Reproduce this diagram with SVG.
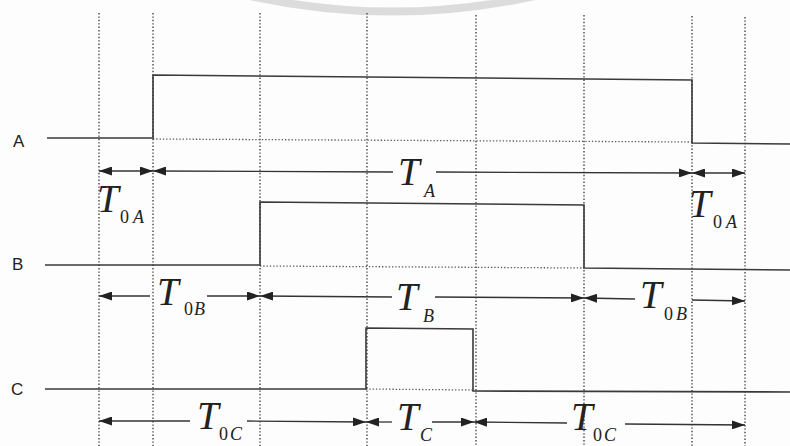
<svg xmlns="http://www.w3.org/2000/svg" width="790" height="446" viewBox="0 0 790 446">
<style>
.bg{fill:#fdfdfd}
.grid{stroke:#444;stroke-width:1.4;stroke-dasharray:1.4 2;fill:none}
.lowdot{stroke:#555;stroke-width:1.3;stroke-dasharray:1.3 2;fill:none}
.sig{stroke:#3a3a3a;stroke-width:1.6;fill:none}
.dim{stroke:#333;stroke-width:1.3;fill:none}
.lbl{font-family:"Liberation Sans",Arial,sans-serif;font-size:17px;fill:#222}
.T{font-family:"Liberation Serif","Times New Roman",serif;font-style:italic;font-size:39px;fill:#222}
.s{font-family:"Liberation Serif","Times New Roman",serif;font-size:18px;fill:#222}
.si{font-family:"Liberation Serif","Times New Roman",serif;font-style:italic;font-size:18px;fill:#222}
</style>
<defs>
<marker id="ah" viewBox="0 0 13 9" refX="13" refY="4.5" markerWidth="13" markerHeight="9" markerUnits="userSpaceOnUse" orient="auto-start-reverse">
<path d="M0,0 L13,4.5 L0,9 z" fill="#222"/>
</marker>
</defs>
<rect class="bg" x="0" y="0" width="790" height="446"/>
<path d="M250 -4 A666 666 0 0 0 535 -4" stroke="#dcdcdc" stroke-width="8" fill="none"/>

<g id="grid">
<line class="grid" x1="99" y1="13" x2="99" y2="446"/>
<line class="grid" x1="153" y1="13" x2="153" y2="446"/>
<line class="grid" x1="260" y1="13" x2="260" y2="446"/>
<line class="grid" x1="367" y1="13" x2="367" y2="446"/>
<line class="grid" x1="476" y1="15" x2="476" y2="446"/>
<line class="grid" x1="584" y1="15" x2="584" y2="446"/>
<line class="grid" x1="692" y1="16" x2="692" y2="446"/>
<line class="grid" x1="745" y1="17" x2="745" y2="446"/>
</g>

<g id="signal-A">
<text class="lbl" x="13" y="147">A</text>
<line class="lowdot" x1="153" y1="139" x2="692" y2="142"/>
<polyline class="sig" points="47,138 153,138 153,75 692,80 692,143 790,144"/>
</g>
<g id="signal-B">
<text class="lbl" x="12" y="270">B</text>
<line class="lowdot" x1="260" y1="266" x2="584" y2="268"/>
<polyline class="sig" points="45,265 260,265 260,202 584,205 584,268 790,270"/>
</g>
<g id="signal-C">
<text class="lbl" x="11" y="395">C</text>
<line class="lowdot" x1="366" y1="389" x2="473" y2="390"/>
<polyline class="sig" points="45,389 366,389 366,328 473,329 473,391 790,392"/>
</g>

<g id="connectors">
<line class="dim" x1="99" y1="171" x2="153" y2="171" marker-start="url(#ah)" marker-end="url(#ah)"/>
<line class="dim" x1="153" y1="171" x2="393" y2="172" marker-start="url(#ah)"/>
<line class="dim" x1="436" y1="172" x2="692" y2="173" marker-end="url(#ah)"/>
<line class="dim" x1="692" y1="173" x2="745" y2="173" marker-start="url(#ah)" marker-end="url(#ah)"/>

<line class="dim" x1="99" y1="296" x2="150" y2="296" marker-start="url(#ah)"/>
<line class="dim" x1="207" y1="296" x2="260" y2="296" marker-end="url(#ah)"/>
<line class="dim" x1="260" y1="296" x2="392" y2="297" marker-start="url(#ah)"/>
<line class="dim" x1="435" y1="297" x2="584" y2="298" marker-end="url(#ah)"/>
<line class="dim" x1="584" y1="298" x2="635" y2="299" marker-start="url(#ah)"/>
<line class="dim" x1="692" y1="300" x2="745" y2="301" marker-end="url(#ah)"/>

<line class="dim" x1="99" y1="421" x2="190" y2="421" marker-start="url(#ah)"/>
<line class="dim" x1="247" y1="421" x2="366" y2="422" marker-end="url(#ah)"/>
<line class="dim" x1="366" y1="422" x2="392" y2="422" marker-start="url(#ah)"/>
<line class="dim" x1="432" y1="422" x2="474" y2="422" marker-end="url(#ah)"/>
<line class="dim" x1="474" y1="422" x2="567" y2="423" marker-start="url(#ah)"/>
<line class="dim" x1="625" y1="424" x2="745" y2="425" marker-end="url(#ah)"/>
</g>

<g id="labels">
<text class="T" x="97" y="212">T</text><text class="s" x="120" y="223">0</text><text class="si" x="133" y="223">A</text>
<text class="T" x="398" y="185">T</text><text class="si" x="424" y="197">A</text>
<text class="T" x="689" y="217">T</text><text class="s" x="713" y="228">0</text><text class="si" x="726" y="228">A</text>

<text class="T" x="157" y="305">T</text><text class="s" x="184" y="315">0</text><text class="si" x="194" y="315">B</text>
<text class="T" x="396" y="310">T</text><text class="si" x="423" y="322">B</text>
<text class="T" x="640" y="308">T</text><text class="s" x="664" y="320">0</text><text class="si" x="676" y="320">B</text>

<text class="T" x="197" y="429">T</text><text class="s" x="219" y="440">0</text><text class="si" x="230" y="440">C</text>
<text class="T" x="397" y="430">T</text><text class="si" x="420" y="441">C</text>
<text class="T" x="571" y="430">T</text><text class="s" x="593" y="441">0</text><text class="si" x="604" y="441">C</text>
</g>
</svg>
